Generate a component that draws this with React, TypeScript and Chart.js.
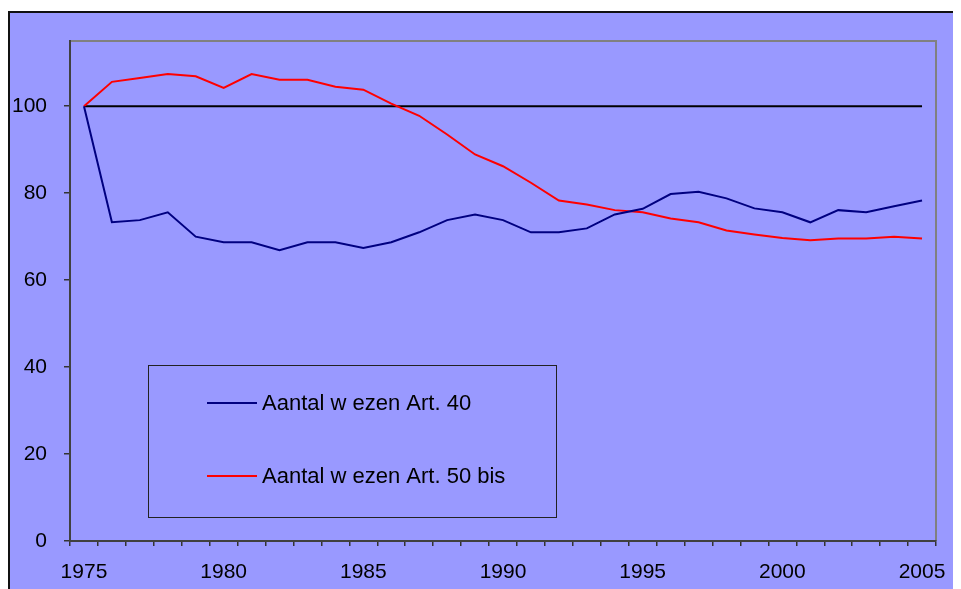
import React, { useEffect, useRef } from 'react';
import { Chart, registerables } from 'chart.js';

Chart.register(...registerables);

const years = [
  '1975', '1976', '1977', '1978', '1979', '1980', '1981', '1982', '1983', '1984',
  '1985', '1986', '1987', '1988', '1989', '1990', '1991', '1992', '1993', '1994',
  '1995', '1996', '1997', '1998', '1999', '2000', '2001', '2002', '2003', '2004', '2005',
];

const xTickLabels = ['1975', '1980', '1985', '1990', '1995', '2000', '2005'];
const yTickValues = [0, 20, 40, 60, 80, 100];

const art40 = [
  100, 73.3, 73.8, 75.6, 70.0, 68.7, 68.7, 66.9, 68.7, 68.7,
  67.4, 68.7, 71.0, 73.8, 75.1, 73.8, 71.0, 71.0, 71.9, 75.1,
  76.4, 79.8, 80.3, 78.8, 76.5, 75.6, 73.3, 76.1, 75.6, 77.0, 78.3,
];

const art50bis = [
  100, 105.6, 106.5, 107.4, 106.9, 104.2, 107.4, 106.1, 106.1, 104.5,
  103.8, 100.6, 97.8, 93.5, 88.9, 86.2, 82.4, 78.3, 77.4, 76.1,
  75.6, 74.2, 73.3, 71.4, 70.5, 69.7, 69.2, 69.6, 69.6, 70.0, 69.6,
];

const baseline = [
  100, 100, 100, 100, 100, 100, 100, 100, 100, 100,
  100, 100, 100, 100, 100, 100, 100, 100, 100, 100,
  100, 100, 100, 100, 100, 100, 100, 100, 100, 100, 100,
];

const seriesLabels = ['Aantal w ezen Art. 40', 'Aantal w ezen Art. 50 bis'];
const seriesColors = ['#000080', '#FF0000'];

const FONT = '"Liberation Sans", Arial, Helvetica, sans-serif';

const backgroundPlugin = {
  id: 'bgFrame',
  beforeDraw(chart: any) {
    const { ctx, width, height, chartArea } = chart;
    ctx.save();
    ctx.fillStyle = '#9999FF';
    ctx.fillRect(0, 0, width, height);
    ctx.strokeStyle = '#111111';
    ctx.lineWidth = 2;
    ctx.beginPath();
    ctx.moveTo(1, height);
    ctx.lineTo(1, 1);
    ctx.lineTo(width, 1);
    ctx.stroke();
    ctx.strokeStyle = '#808080';
    ctx.lineWidth = 2;
    ctx.beginPath();
    ctx.moveTo(chartArea.left, chartArea.top);
    ctx.lineTo(chartArea.right, chartArea.top);
    ctx.lineTo(chartArea.right, chartArea.bottom);
    ctx.stroke();
    ctx.restore();
  },
};

const legendBoxPlugin = {
  id: 'legendBox',
  afterDatasetsDraw(chart: any) {
    const { ctx } = chart;
    ctx.save();
    ctx.strokeStyle = '#222222';
    ctx.lineWidth = 1;
    ctx.strokeRect(140.5, 354.5, 408, 152);
    const rows = [392, 465];
    ctx.font = `22px ${FONT}`;
    ctx.textBaseline = 'middle';
    ctx.textAlign = 'left';
    rows.forEach((y, i) => {
      const ds = chart.data.datasets[i];
      ctx.strokeStyle = ds.borderColor;
      ctx.lineWidth = 2;
      ctx.beginPath();
      ctx.moveTo(199, y);
      ctx.lineTo(249, y);
      ctx.stroke();
      ctx.fillStyle = '#000000';
      ctx.fillText(ds.label, 254, y + 1);
    });
    ctx.restore();
  },
};

export default function App() {
  const canvasRef = useRef<HTMLCanvasElement | null>(null);

  useEffect(() => {
    if (!canvasRef.current) return;
    const chart = new Chart(canvasRef.current, {
      type: 'line',
      data: {
        labels: years,
        datasets: [
          {
            label: seriesLabels[0],
            data: art40,
            borderColor: seriesColors[0],
            borderWidth: 2,
            pointRadius: 0,
            tension: 0,
            fill: false,
          },
          {
            label: seriesLabels[1],
            data: art50bis,
            borderColor: seriesColors[1],
            borderWidth: 2,
            pointRadius: 0,
            tension: 0,
            fill: false,
          },
          {
            label: 'Basis',
            data: baseline,
            borderColor: '#000000',
            borderWidth: 2,
            pointRadius: 0,
            tension: 0,
            fill: false,
          },
        ],
      },
      options: {
        responsive: false,
        animation: false,
        devicePixelRatio: 1,
        layout: { padding: { top: 30, right: 25, left: 0, bottom: 0 } },
        plugins: {
          legend: { display: false },
          tooltip: { enabled: false },
        },
        scales: {
          x: {
            type: 'category',
            offset: true,
            grid: {
              offset: true,
              drawOnChartArea: false,
              drawTicks: true,
              tickLength: 5,
              color: '#333333',
              lineWidth: 1.5,
            },
            border: { display: true, color: '#404040', width: 2 },
            ticks: {
              autoSkip: false,
              maxRotation: 0,
              padding: 14,
              color: '#000000',
              font: { family: FONT, size: 21 },
              callback: function (this: any, value: any, index: number) {
                const lab = years[index];
                return xTickLabels.includes(lab) ? lab : '';
              },
            },
            afterFit(scale: any) {
              scale.height = 48;
            },
          },
          y: {
            type: 'linear',
            min: 0,
            max: 115,
            grid: {
              drawOnChartArea: false,
              drawTicks: true,
              tickLength: 6,
              color: '#333333',
              lineWidth: 1.5,
            },
            border: { display: true, color: '#404040', width: 2 },
            ticks: {
              stepSize: 20,
              padding: 17,
              color: '#000000',
              font: { family: FONT, size: 21 },
            },
            afterBuildTicks(scale: any) {
              scale.ticks = yTickValues.map((v) => ({ value: v }));
            },
            afterFit(scale: any) {
              scale.width = 62;
            },
          },
        },
      },
      plugins: [backgroundPlugin, legendBoxPlugin],
    });
    return () => chart.destroy();
  }, []);

  return (
    <div style={{ paddingTop: 3 }}>
      <canvas
        ref={canvasRef}
        width={953}
        height={578}
        style={{ display: 'block', width: 953, height: 578 }}
      />
    </div>
  );
}
